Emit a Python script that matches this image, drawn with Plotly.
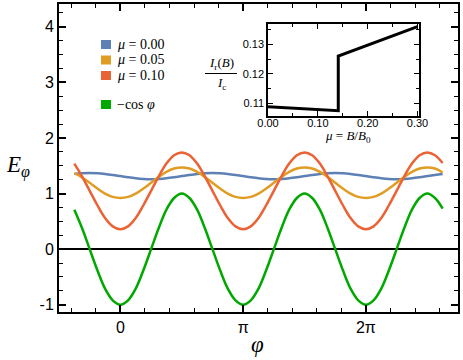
import plotly.graph_objects as go

# phi sampled every pi/16, in units of pi
PHI = [-0.375, -0.3125, -0.25, -0.1875, -0.125, -0.0625,
       0.0, 0.0625, 0.125, 0.1875, 0.25, 0.3125, 0.375, 0.4375,
       0.5, 0.5625, 0.625, 0.6875, 0.75, 0.8125, 0.875, 0.9375,
       1.0, 1.0625, 1.125, 1.1875, 1.25, 1.3125, 1.375, 1.4375,
       1.5, 1.5625, 1.625, 1.6875, 1.75, 1.8125, 1.875, 1.9375,
       2.0, 2.0625, 2.125, 2.1875, 2.25, 2.3125, 2.375, 2.4375,
       2.5, 2.5625, 2.625]

E_MU000 = [1.354, 1.366, 1.37, 1.366, 1.354, 1.336,
           1.315, 1.294, 1.276, 1.264, 1.26, 1.264, 1.276, 1.294,
           1.315, 1.336, 1.354, 1.366, 1.37, 1.366, 1.354, 1.336,
           1.315, 1.294, 1.276, 1.264, 1.26, 1.264, 1.276, 1.294,
           1.315, 1.336, 1.354, 1.366, 1.37, 1.366, 1.354, 1.336,
           1.315, 1.294, 1.276, 1.264, 1.26, 1.264, 1.276, 1.294,
           1.315, 1.336, 1.354]
E_MU005 = [1.37, 1.29, 1.195, 1.09, 1.0, 0.94,
           0.92, 0.94, 1.0, 1.09, 1.195, 1.30, 1.39, 1.45,
           1.47, 1.45, 1.39, 1.30, 1.195, 1.09, 1.0, 0.94,
           0.92, 0.94, 1.0, 1.09, 1.195, 1.30, 1.39, 1.45,
           1.47, 1.45, 1.39, 1.30, 1.195, 1.09, 1.0, 0.94,
           0.92, 0.94, 1.0, 1.09, 1.195, 1.30, 1.39, 1.45,
           1.47, 1.45, 1.38]
E_MU010 = [1.54, 1.31, 1.05, 0.79, 0.56, 0.41,
           0.36, 0.41, 0.56, 0.79, 1.05, 1.31, 1.54, 1.69,
           1.74, 1.69, 1.54, 1.31, 1.05, 0.79, 0.56, 0.41,
           0.36, 0.41, 0.56, 0.79, 1.05, 1.31, 1.54, 1.69,
           1.74, 1.69, 1.54, 1.31, 1.05, 0.79, 0.56, 0.41,
           0.36, 0.41, 0.56, 0.79, 1.05, 1.31, 1.54, 1.69,
           1.74, 1.69, 1.55]
E_COS = [0.71, 0.38, 0.0, -0.38, -0.71, -0.92,
         -1.0, -0.92, -0.71, -0.38, 0.0, 0.38, 0.71, 0.92,
         1.0, 0.92, 0.71, 0.38, 0.0, -0.38, -0.71, -0.92,
         -1.0, -0.92, -0.71, -0.38, 0.0, 0.38, 0.71, 0.92,
         1.0, 0.92, 0.71, 0.38, 0.0, -0.38, -0.71, -0.92,
         -1.0, -0.92, -0.71, -0.38, 0.0, 0.38, 0.71, 0.92,
         1.0, 0.92, 0.73]

MU_INSET = [0.0, 0.141, 0.141, 0.30]
IR_OVER_IC = [0.1088, 0.1075, 0.126, 0.136]

LEGEND_LABELS = ["<i>μ</i> = 0.00", "<i>μ</i> = 0.05", "<i>μ</i> = 0.10", "−cos <i>φ</i>"]

COLORS = ["#5E81B5", "#E19C24", "#EB6235", "#00A800"]

W, H = 463, 360
ML, MR, MT, MB = 59, 5, 4, 48
PW, PH = W - ML - MR, H - MT - MB

SANS = "Liberation Sans, Arial, sans-serif"
SERIF = "Liberation Serif, Times New Roman, serif"


def px(x):
    return (x - ML) / PW


def py(y):
    return (H - MB - y) / PH


fig = go.Figure()

for ys, color in zip([E_MU000, E_MU005, E_MU010, E_COS], COLORS):
    fig.add_trace(go.Scatter(x=PHI, y=ys, mode="lines", showlegend=False, hoverinfo="skip",
                             line=dict(color=color, width=2.5, shape="spline", smoothing=1.0),
                             xaxis="x", yaxis="y"))

fig.add_trace(go.Scatter(x=MU_INSET, y=IR_OVER_IC, mode="lines", showlegend=False, hoverinfo="skip",
                         line=dict(color="black", width=3), xaxis="x2", yaxis="y2"))

axis_common = dict(showgrid=False, showline=True, linecolor="black", mirror="ticks",
                   ticks="inside", tickcolor="black", automargin=False)

fig.update_layout(
    width=W, height=H,
    margin=dict(l=ML, r=MR, t=MT, b=MB, autoexpand=False),
    paper_bgcolor="white", plot_bgcolor="white",
    xaxis=dict(axis_common, range=[-0.5, 2.75], tickvals=[0, 1, 2], ticktext=["0", "π", "2π"],
               linewidth=2, ticklen=7, tickwidth=1.5, zeroline=False,
               minor=dict(dtick=0.2, tick0=0, ticklen=4, tickwidth=1.3, ticks="inside", tickcolor="black"),
               tickfont=dict(family=SANS, size=16, color="black")),
    yaxis=dict(axis_common, range=[-1.13, 4.41], tickvals=[-1, 0, 1, 2, 3, 4],
               ticktext=["-1", "0", "1", "2", "3", "4"],
               linewidth=2, ticklen=7, tickwidth=1.5,
               zeroline=True, zerolinecolor="black", zerolinewidth=2,
               minor=dict(dtick=0.25, tick0=0, ticklen=4, tickwidth=1.3, ticks="inside", tickcolor="black"),
               tickfont=dict(family=SANS, size=16, color="black")),
    xaxis2=dict(axis_common, domain=[px(268), px(419)], anchor="y2", range=[0, 0.303],
                tickvals=[0, 0.1, 0.2, 0.3], ticktext=["0.00", "0.10", "0.20", "0.30"],
                linewidth=1.5, ticklen=5, tickwidth=1.2, zeroline=False, ticklabelstandoff=-4,
                minor=dict(dtick=0.05, tick0=0, ticklen=3, tickwidth=1, ticks="inside", tickcolor="black"),
                tickfont=dict(family=SANS, size=11, color="black")),
    yaxis2=dict(axis_common, domain=[py(116), py(24)], anchor="x2", range=[0.1057, 0.1369],
                tickvals=[0.11, 0.12, 0.13], ticktext=["0.11", "0.12", "0.13"],
                linewidth=1.5, ticklen=5, tickwidth=1.2, zeroline=False,
                minor=dict(dtick=0.005, tick0=0, ticklen=3, tickwidth=1, ticks="inside", tickcolor="black"),
                tickfont=dict(family=SANS, size=11, color="black")),
)

# custom legend with square swatches
legend_y = [44.5, 60, 75.5, 104.5]
for label, color, ly in zip(LEGEND_LABELS, COLORS, legend_y):
    fig.add_shape(type="rect", xref="paper", yref="paper",
                  x0=px(101), x1=px(111), y0=py(ly + 4.5), y1=py(ly - 4.5),
                  fillcolor=color, line=dict(width=0))
    fig.add_annotation(x=px(115), y=py(ly), xref="paper", yref="paper", text=label,
                       showarrow=False, xanchor="left", yanchor="middle",
                       font=dict(family=SERIF, size=14, color="black"))

# axis labels
fig.add_annotation(x=px(18), y=py(166), xref="paper", yref="paper", text="<i>E</i><sub><i>φ</i></sub>",
                   showarrow=False, xanchor="center", yanchor="middle",
                   font=dict(family=SERIF, size=23, color="black"))
fig.add_annotation(x=px(257), y=py(344), xref="paper", yref="paper", text="<i>φ</i>",
                   showarrow=False, xanchor="center", yanchor="middle",
                   font=dict(family=SERIF, size=23, color="black"))

# inset labels
fig.add_annotation(x=px(221), y=py(64), xref="paper", yref="paper", text="<i>I</i><sub>r</sub>(<i>B</i>)",
                   showarrow=False, xanchor="center", yanchor="middle",
                   font=dict(family=SERIF, size=13, color="black"))
fig.add_shape(type="line", xref="paper", yref="paper", x0=px(205), x1=px(237), y0=py(73.5), y1=py(73.5),
              line=dict(color="black", width=1))
fig.add_annotation(x=px(221), y=py(84), xref="paper", yref="paper", text="<i>I</i><sub>c</sub>",
                   showarrow=False, xanchor="center", yanchor="middle",
                   font=dict(family=SERIF, size=13, color="black"))
fig.add_annotation(x=px(348), y=py(136), xref="paper", yref="paper", text="<i>μ</i> = <i>B</i>/<i>B</i><sub>0</sub>",
                   showarrow=False, xanchor="center", yanchor="middle",
                   font=dict(family=SERIF, size=13, color="black"))

# the page body has a default margin; drop it so the figure sits at the window corner
fig.write_html("out.html", config={"displayModeBar": False},
               post_script="document.body.style.margin = '0';")
